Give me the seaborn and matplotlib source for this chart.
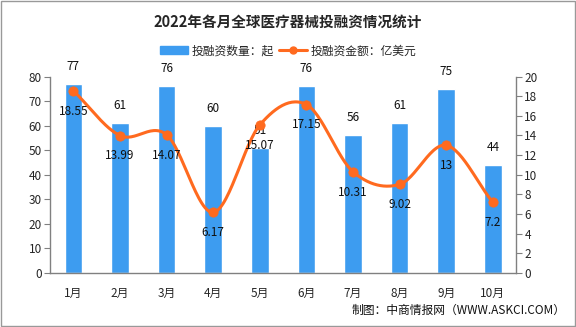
import numpy as np
import pandas as pd
import matplotlib
matplotlib.use("Agg")
import matplotlib.pyplot as plt
import seaborn as sns
from matplotlib.patches import Rectangle, Patch
from matplotlib.lines import Line2D

months = ["1月", "2月", "3月", "4月", "5月", "6月", "7月", "8月", "9月", "10月"]
deal_counts = [77, 61, 76, 60, 51, 76, 56, 61, 75, 44]
amounts = [18.55, 13.99, 14.07, 6.17, 15.07, 17.15, 10.31, 9.02, 13, 7.2]
amount_labels = ["18.55", "13.99", "14.07", "6.17", "15.07", "17.15", "10.31", "9.02", "13", "7.2"]
left_ticks = [0, 10, 20, 30, 40, 50, 60, 70, 80]
right_ticks = [0, 2, 4, 6, 8, 10, 12, 14, 16, 18, 20]

title = "2022年各月全球医疗器械投融资情况统计"
bar_name = "投融资数量：起"
line_name = "投融资金额：亿美元"
source = "制图：中商情报网（WWW.ASKCI.COM）"

sns.set_style("white")
plt.rcParams["font.family"] = ["Noto Sans CJK SC", "DejaVu Sans"]

BAR_C = "#3D9CF0"
LINE_C = "#FF6A1F"
GRAY = "#808080"

df = pd.DataFrame({"month": months, "count": deal_counts, "amount": amounts})

fig = plt.figure(figsize=(5.76, 3.27), dpi=100)
ax = fig.add_axes([0.087, 0.165, 0.809, 0.601])
sns.barplot(data=df, x="month", y="count", color=BAR_C, width=0.38,
            saturation=1, ax=ax)
ax.set_ylim(0, 80)
ax.set_yticks(left_ticks)
ax.set_xlim(-0.5, len(months) - 0.5)
ax.set_xlabel("")
ax.set_ylabel("")
if ax.get_legend() is not None:
    ax.get_legend().remove()

for i, v in enumerate(deal_counts):
    ax.annotate(str(v), (i, v), xytext=(0, 8), textcoords="offset points",
                ha="center", va="bottom", fontsize=8.5, color="#111111")

ax2 = ax.twinx()
# smooth curve (Catmull-Rom) through the data points
xs = np.arange(len(amounts), dtype=float)
ys = np.array(amounts, dtype=float)
P = np.vstack([xs, ys]).T
Pext = np.vstack([P[0] - (P[1] - P[0]), P, P[-1] + (P[-1] - P[-2])])
curve = []
t = np.linspace(0, 1, 30)
for k in range(1, len(Pext) - 2):
    p0, p1, p2, p3 = Pext[k - 1], Pext[k], Pext[k + 1], Pext[k + 2]
    tt = t[:, None]
    seg = 0.5 * ((2 * p1) + (-p0 + p2) * tt + (2 * p0 - 5 * p1 + 4 * p2 - p3) * tt ** 2
                 + (-p0 + 3 * p1 - 3 * p2 + p3) * tt ** 3)
    curve.append(seg)
curve = np.vstack(curve)
ax2.plot(curve[:, 0], curve[:, 1], color=LINE_C, lw=2.2, solid_capstyle="round", zorder=3)
sns.scatterplot(x=xs, y=ys, color=LINE_C, s=45, edgecolor=LINE_C, ax=ax2, zorder=4, legend=False)
ax2.set_ylim(0, 20)
ax2.set_yticks(right_ticks)
ax2.set_xlim(-0.5, len(months) - 0.5)

for i, (v, lab) in enumerate(zip(amounts, amount_labels)):
    ax2.annotate(lab, (i, v), xytext=(0, -10), textcoords="offset points",
                 ha="center", va="top", fontsize=8.5, color="#111111", zorder=5)

for a in (ax, ax2):
    a.spines["top"].set_visible(False)
    for s in ("left", "right", "bottom"):
        a.spines[s].set_color(GRAY)
        a.spines[s].set_linewidth(1)
ax.spines["right"].set_visible(False)
ax2.spines["left"].set_visible(False)
ax2.spines["bottom"].set_visible(False)

ax.tick_params(axis="y", direction="out", length=4, color=GRAY, labelsize=8.5, pad=2)
ax2.tick_params(axis="y", direction="out", length=4, color=GRAY, labelsize=8.5, pad=2)
ax.set_xticks(range(len(months)))
ax.set_xticklabels(months)
ax.tick_params(axis="x", length=0, labelsize=8.5, pad=10)
ax.set_xticks(np.arange(-0.5, len(months)), minor=True)
ax.tick_params(axis="x", which="minor", direction="out", length=4, color=GRAY)

fig.text(0.5, 0.935, title, ha="center", va="center", fontsize=10.5, fontweight="bold")

handles = [Patch(facecolor=BAR_C, edgecolor=BAR_C),
           Line2D([0], [0], color=LINE_C, lw=2.2, marker="o", markersize=5)]
fig.legend(handles, [bar_name, line_name], loc="center", bbox_to_anchor=(0.5, 0.845),
           ncol=2, frameon=False, fontsize=8.5, handlelength=2.4, columnspacing=0.4,
           handletextpad=0.3)

fig.text(0.982, 0.05, source, ha="right", va="center", fontsize=8.5, color="#111111")

fig.patches.append(Rectangle((0.001, 0.002), 0.997, 0.995, transform=fig.transFigure,
                             fill=False, edgecolor="#999999", lw=1))

fig.savefig("out.png", dpi=100)
